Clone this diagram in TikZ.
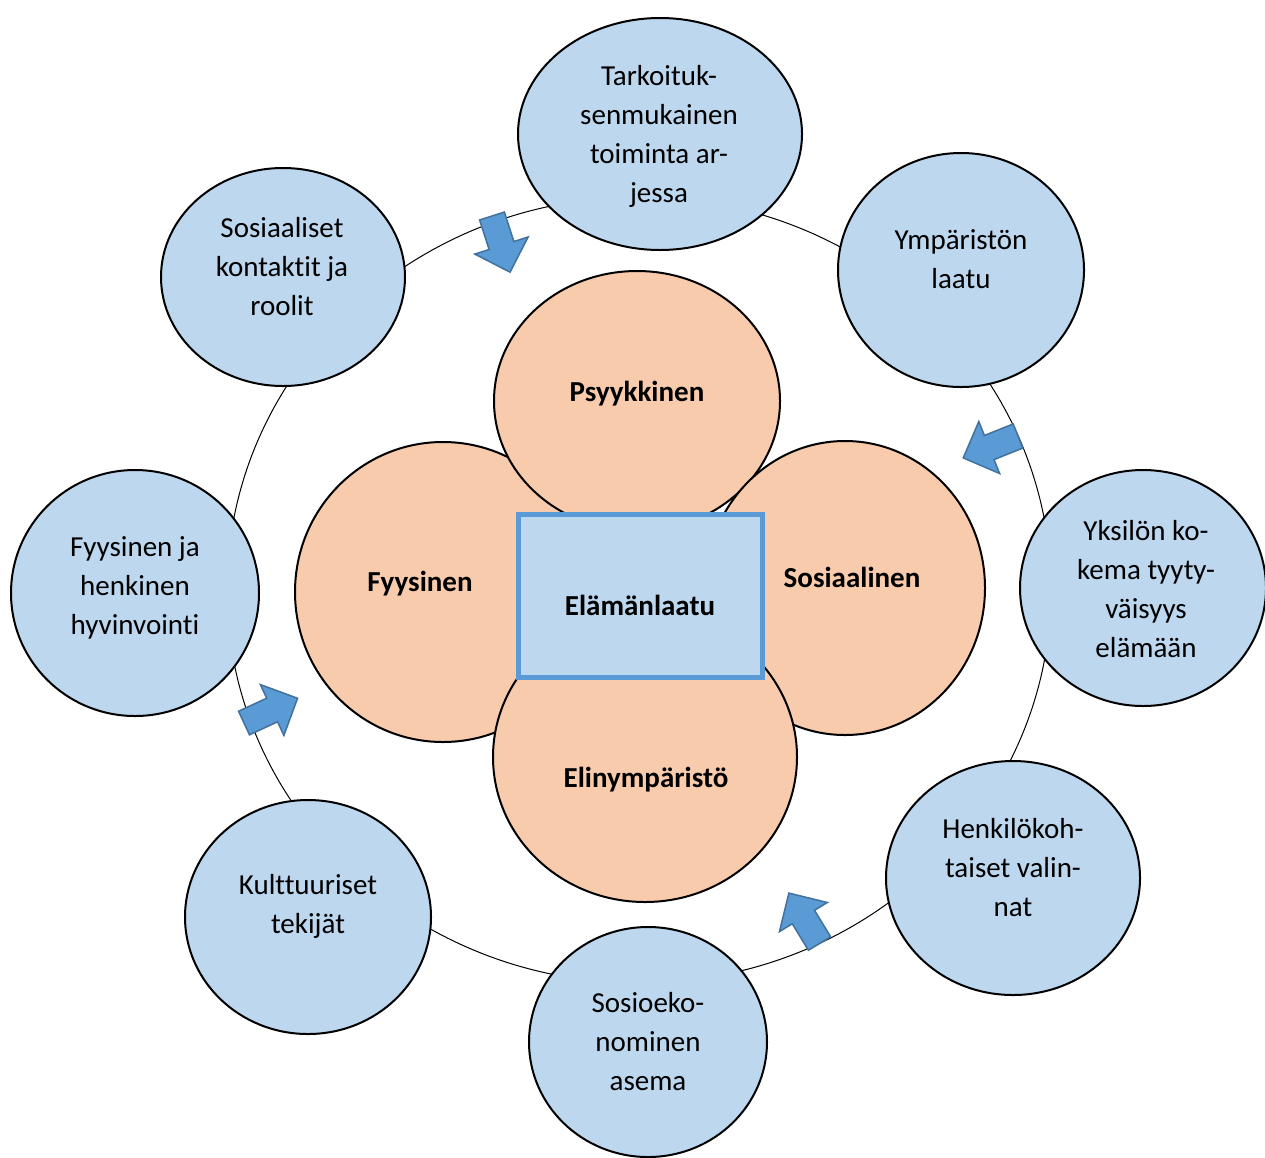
\documentclass[tikz,border=0pt]{standalone}
\usepackage{fontspec}
\setmainfont[Ligatures=NoCommon]{Carlito}
\usetikzlibrary{shapes.geometric}
\definecolor{bluefill}{HTML}{BDD7EE}
\definecolor{orfill}{HTML}{F8CBAD}
\definecolor{boxline}{HTML}{5B9BD5}
\definecolor{arrfill}{HTML}{5B9BD5}
\definecolor{arrline}{HTML}{41719C}
\newcommand\bluearrow[2]{%
  \begin{scope}[shift={#1},rotate=#2]
    \draw[blockarr] (0,-13) -- (31,-13) -- (31,-28) -- (59,0) -- (31,28) -- (31,13) -- (0,13) -- cycle;
  \end{scope}}
\begin{document}
\begin{tikzpicture}[x=1pt,y=1pt,
  bnode/.style={ellipse, draw=black, line width=2pt, fill=bluefill, inner sep=0pt},
  btext/.style={align=center, inner sep=0pt, font=\fontsize{29}{39}\selectfont},
  onode/.style={ellipse, draw=black, line width=2pt, fill=orfill, inner sep=0pt},
  olabel/.style={font=\fontsize{29}{35}\selectfont\bfseries, inner sep=0pt},
  blockarr/.style={fill=arrfill, draw=arrline, line width=1.5pt, line join=miter},
  ring/.style={draw=black, line width=1pt}]
\useasboundingbox (0,0) rectangle (1265,-1157);
\draw[ring] (639,-590) ellipse [x radius=412, y radius=393];
% outer nodes
\node[bnode, minimum width=284pt, minimum height=232pt] (tark) at (660,-134) {};
\node[bnode, minimum width=246pt, minimum height=234pt] (ymp) at (961,-270) {};
\node[bnode, minimum width=246pt, minimum height=236pt] (yks) at (1143,-588) {};
\node[bnode, minimum width=254pt, minimum height=234pt] (henk) at (1013,-878) {};
\node[bnode, minimum width=238pt, minimum height=230pt] (sosek) at (648,-1042) {};
\node[bnode, minimum width=246pt, minimum height=234pt] (kult) at (308,-917) {};
\node[bnode, minimum width=248pt, minimum height=246pt] (fyhe) at (135,-593) {};
\node[bnode, minimum width=244pt, minimum height=218pt] (sosk) at (283,-277) {};
\node[btext] (tarkt) at (659,-136.5) {Tarkoituk-\\senmukainen\\toiminta ar-\\jessa};
\node[btext] (ympt) at (961,-259) {Ympäristön\\laatu};
\node[btext] (ykst) at (1146,-589.5) {Yksilön ko-\\kema tyyty-\\väisyys\\elämään};
\node[btext] (henkt) at (1013,-868) {Henkilökoh-\\taiset valin-\\nat};
\node[btext] (sosekt) at (648,-1042) {Sosioeko-\\nominen\\asema};
\node[btext] (kultt) at (308,-906.5) {Kulttuuriset\\tekijät};
\node[btext] (fyhet) at (135,-588) {Fyysinen ja\\henkinen\\hyvinvointi};
\node[btext] (soskt) at (282,-266.5) {Sosiaaliset\\kontaktit ja\\roolit};
% arrows
\bluearrow{(492,-216)}{-72.2}
\bluearrow{(1018,-436)}{201.8}
\bluearrow{(244,-723)}{24.8}
\bluearrow{(819.5,-943.5)}{121.3}
% centre circles
\node[onode, minimum width=296pt, minimum height=300pt] (fyys) at (443,-592) {};
\node[onode, minimum width=286pt, minimum height=260pt] (psyk) at (637,-401) {};
\node[onode, minimum width=280pt, minimum height=294pt] (sosi) at (845,-588) {};
\node[onode, minimum width=304pt, minimum height=290pt] (elin) at (645,-757) {};
\node[draw=boxline, line width=5pt, fill=bluefill, minimum width=244pt, minimum height=163pt, inner sep=0pt] (elama) at (640.5,-596) {};
% labels
\node[olabel] (psykt) at (637,-394) {Psyykkinen};
\node[olabel] (fyyst) at (420,-584) {Fyysinen};
\node[olabel] (sosit) at (852,-577) {Sosiaalinen};
\node[olabel] (elamat) at (640,-605) {Elämänlaatu};
\node[olabel] (elint) at (646,-780) {Elinympäristö};
\end{tikzpicture}
\end{document}
